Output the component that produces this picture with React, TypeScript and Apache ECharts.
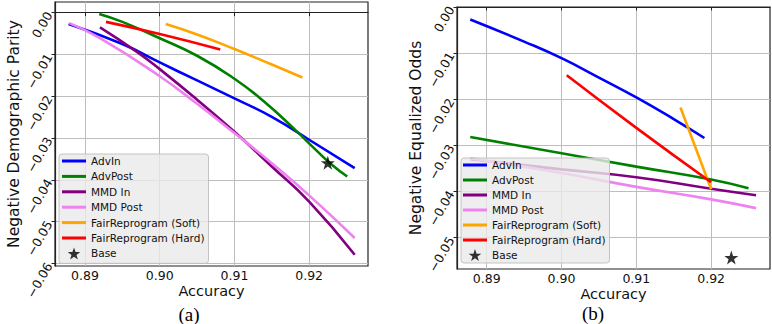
import React, { useEffect, useRef } from "react";
import * as echarts from "echarts";

const methodNames = ["AdvIn", "AdvPost", "MMD In", "MMD Post", "FairReprogram (Soft)", "FairReprogram (Hard)"];
const methodColors = ["#0000ff", "#008000", "#800080", "#ee82ee", "#ffa500", "#ff0000"];
const baseName = "Base";

const xTicks = [0.89, 0.9, 0.91, 0.92];
const dpTicks = [0, -0.01, -0.02, -0.03, -0.04, -0.05, -0.06];
const eoTicks = [0, -0.01, -0.02, -0.03, -0.04, -0.05];

// (a) Negative Demographic Parity vs Accuracy
const dpAdvIn = [[0.8878, -0.0027], [0.895, -0.0075], [0.9, -0.0119], [0.905, -0.0162], [0.91, -0.0205], [0.915, -0.0249], [0.92, -0.0304], [0.9261, -0.0372]];
const dpAdvPost = [[0.8919, -0.0003], [0.895, -0.0022], [0.9, -0.0061], [0.905, -0.0103], [0.91, -0.0158], [0.914, -0.0213], [0.918, -0.0278], [0.921, -0.033], [0.923, -0.0363], [0.9251, -0.0392]];
const dpMmdIn = [[0.892, -0.0035], [0.8969, -0.0093], [0.9, -0.0135], [0.905, -0.0208], [0.91, -0.0285], [0.915, -0.0368], [0.92, -0.0452], [0.9261, -0.0579]];
const dpMmdPost = [[0.8879, -0.0025], [0.892, -0.0061], [0.9, -0.0152], [0.905, -0.0218], [0.91, -0.0288], [0.915, -0.036], [0.92, -0.0437], [0.9261, -0.0539]];
const dpSoft = [[0.9008, -0.0027], [0.905, -0.0052], [0.91, -0.0087], [0.915, -0.0124], [0.9191, -0.0155]];
const dpHard = [[0.8928, -0.0022], [0.9, -0.0051], [0.9081, -0.0088]];
const dpBase = [[0.9225, -0.0359]];

// (b) Negative Equalized Odds vs Accuracy
const eoAdvIn = [[0.8878, -0.0027], [0.895, -0.0075], [0.9, -0.0111], [0.905, -0.0153], [0.91, -0.0196], [0.915, -0.0243], [0.9191, -0.0284]];
const eoAdvPost = [[0.8878, -0.0282], [0.9, -0.0317], [0.91, -0.0346], [0.92, -0.0374], [0.925, -0.0393]];
const eoMmdIn = [[0.8878, -0.033], [0.9, -0.0352], [0.91, -0.0369], [0.92, -0.0394], [0.926, -0.0408]];
const eoMmdPost = [[0.8878, -0.0328], [0.9, -0.036], [0.91, -0.039], [0.92, -0.0417], [0.926, -0.0436]];
const eoSoft = [[0.9159, -0.0218], [0.92, -0.0395]];
const eoHard = [[0.9007, -0.0148], [0.91, -0.0262], [0.92, -0.038]];
const eoBase = [[0.9227, -0.0543]];

const dpSeries = [dpAdvIn, dpAdvPost, dpMmdIn, dpMmdPost, dpSoft, dpHard];
const eoSeries = [eoAdvIn, eoAdvPost, eoMmdIn, eoMmdPost, eoSoft, eoHard];

const FONT = "DejaVu Sans";
const STAR = "path://M50,0 L61.8,35.3 L97.6,35.3 L68.8,57.1 L79.4,90.5 L50,70 L20.6,90.5 L31.2,57.1 L2.4,35.3 L38.2,35.3 Z";
const LINE_ICON = "path://M0,0 H24 V3 H0 Z";

const fmtY = (v: number) => (Math.abs(v) < 1e-9 ? "0.00" : (v < 0 ? "\u2212" : "") + Math.abs(v).toFixed(2));
const fmtX = (v: number) => v.toFixed(2);

function makeXAxis(gridIndex: number, min: number, max: number) {
  return {
    type: "value",
    gridIndex,
    min,
    max,
    splitNumber: 4,
    name: "Accuracy",
    nameLocation: "middle",
    nameGap: 17,
    nameMoveOverlap: false,
    nameTextStyle: { fontFamily: FONT, fontSize: 14.5, color: "#111" },
    axisLine: { show: true, lineStyle: { color: "#222", width: 1.2 } },
    axisTick: { show: true, length: 3.5, lineStyle: { color: "#222" }, customValues: xTicks },
    axisLabel: { fontFamily: FONT, fontSize: 12.5, color: "#111", margin: 3, customValues: xTicks, formatter: fmtX },
    splitLine: { show: true, lineStyle: { color: "#bdbdbd", width: 1 } },
  };
}

function makeYAxis(gridIndex: number, min: number, max: number, name: string, ticks: number[]) {
  return {
    type: "value",
    gridIndex,
    min,
    max,
    name,
    nameLocation: "middle",
    nameGap: 33,
    nameTextStyle: { fontFamily: FONT, fontSize: 15.5, color: "#111" },
    axisLine: { show: true, lineStyle: { color: "#222", width: 1.2 } },
    axisTick: { show: true, length: 3.5, lineStyle: { color: "#222" }, customValues: ticks },
    axisLabel: { fontFamily: FONT, fontSize: 12.5, color: "#111", margin: 6, rotate: 60, customValues: ticks, formatter: fmtY },
    splitLine: { show: true, lineStyle: { color: "#bdbdbd", width: 1 } },
  };
}

function lineSeries(name: string, color: string, data: number[][], idx: number) {
  return {
    type: "line",
    name,
    xAxisIndex: idx,
    yAxisIndex: idx,
    data,
    smooth: 0.5,
    showSymbol: false,
    symbol: "none",
    clip: true,
    itemStyle: { color },
    lineStyle: { color, width: 2.6 },
    z: 3,
  };
}

function baseSeries(data: number[][], idx: number) {
  return {
    type: "scatter",
    name: baseName,
    xAxisIndex: idx,
    yAxisIndex: idx,
    data,
    symbol: STAR,
    symbolSize: 14,
    itemStyle: { color: "#000" },
    z: 4,
  };
}

const legendData = [
  ...methodNames.map((n) => ({ name: n, icon: LINE_ICON })),
  { name: baseName, icon: STAR },
];

const legendCommon = {
  orient: "vertical",
  itemWidth: 24,
  itemHeight: 12,
  selectedMode: false,
  symbolKeepAspect: true,
  textStyle: { fontFamily: FONT, fontSize: 10.5, color: "#111", lineHeight: 12 },
  backgroundColor: "rgba(234,234,234,0.8)",
  borderColor: "rgba(190,190,190,0.9)",
  borderWidth: 1,
  borderRadius: 3,
  data: legendData,
  z: 10,
};

export default function App() {
  const ref = useRef<HTMLDivElement>(null);
  useEffect(() => {
    if (!ref.current) return;
    const chart = echarts.init(ref.current, undefined, { renderer: "svg" });
    const series: any[] = [];
    dpSeries.forEach((d, i) => series.push(lineSeries(methodNames[i], methodColors[i], d, 0)));
    series.push(baseSeries(dpBase, 0));
    eoSeries.forEach((d, i) => series.push(lineSeries(methodNames[i], methodColors[i], d, 1)));
    series.push(baseSeries(eoBase, 1));

    chart.setOption({
      animation: false,
      backgroundColor: "#fff",
      grid: [
        { left: 55, top: 2, width: 313, height: 264, show: true, borderColor: "#222", borderWidth: 1.2, backgroundColor: "transparent" },
        { left: 457, top: 7, width: 313, height: 262, show: true, borderColor: "#222", borderWidth: 1.2, backgroundColor: "transparent" },
      ],
      xAxis: [makeXAxis(0, 0.88598, 0.92788), makeXAxis(1, 0.88603, 0.92787)],
      yAxis: [
        makeYAxis(0, -0.0606, 0.00256, "Negative Demographic Parity", dpTicks),
        makeYAxis(1, -0.0568, 0, "Negative Equalized Odds", eoTicks),
      ],
      legend: [
        { ...legendCommon, left: 59, top: 154, padding: [1, 4, 4, 3], itemGap: 3.4 },
        { ...legendCommon, left: 461, top: 158, padding: [1, 4, 2, 2], itemGap: 3 },
      ],
      graphic: [
        { type: "text", x: 189, y: 314, style: { text: "(a)", font: '19px "Liberation Serif"', fill: "#000", textAlign: "center", textVerticalAlign: "middle" } },
        { type: "text", x: 593, y: 313, style: { text: "(b)", font: '19px "Liberation Serif"', fill: "#000", textAlign: "center", textVerticalAlign: "middle" } },
      ],
      series,
    });
    return () => chart.dispose();
  }, []);
  return <div ref={ref} style={{ position: "fixed", left: 0, top: 0, width: 772, height: 324 }} />;
}
